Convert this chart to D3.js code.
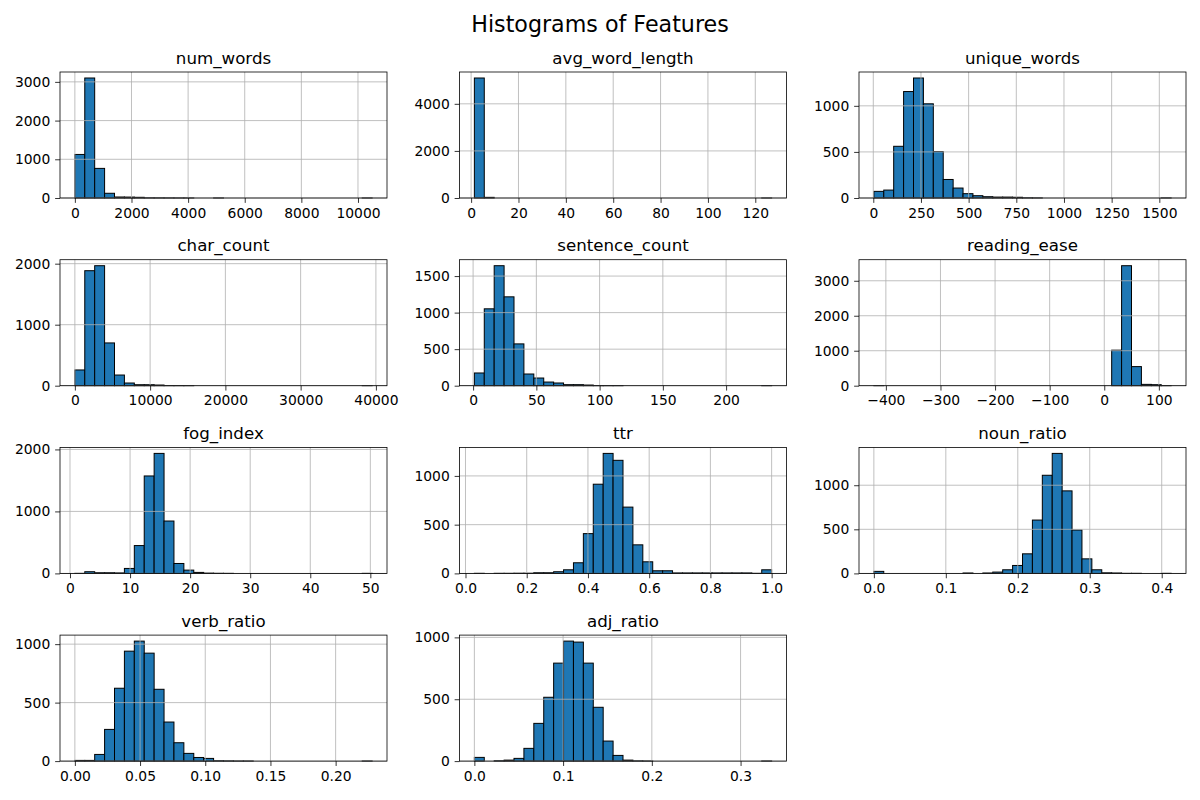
<!DOCTYPE html>
<html><head><meta charset="utf-8">
<script src="https://cdn.jsdelivr.net/npm/d3@7/dist/d3.min.js"></script>
<style>body{margin:0;background:#fff}text{font-family:"DejaVu Sans",sans-serif}</style>
</head><body>
<svg id="c" width="1200" height="800"></svg>
<script>
// ---------------- data ----------------
const featureNames = ["num_words","avg_word_length","unique_words","char_count","sentence_count","reading_ease","fog_index","ttr","noun_ratio","verb_ratio","adj_ratio"];
const dataMins = [0, 1.37, 3, 0, 1, -422, 0.81, 0.029, 0, 0, 0];
const dataMaxs = [10500, 126.9, 1562, 39500, 236, 122.5, 50.3, 1.0, 0.4131, 0.228, 0.335];

const numWordsCounts      = [1125,3100,765,122,26,24,18,4,3,2,1,1,0,0,1,0,0,0,0,0,0,0,0,0,0,0,0,0,0,1];
const avgWordLengthCounts = [5097,28,0,0,0,0,0,0,0,0,0,0,0,0,0,0,0,0,0,0,0,0,0,0,0,0,0,0,0,1];
const uniqueWordsCounts   = [72,86,561,1155,1302,1022,504,201,108,47,25,14,10,10,8,2,1,0,0,0,0,0,0,0,0,0,0,0,0,1];
const charCountCounts     = [258,1885,1967,701,175,44,16,16,11,3,2,1,0,0,0,0,0,0,0,0,0,0,0,0,0,0,0,0,0,1];
const sentenceCountCounts = [174,1052,1642,1216,572,160,105,50,37,14,14,9,2,1,1,0,0,0,0,0,0,0,0,0,0,0,0,0,0,1];
const readingEaseCounts   = [1,0,0,0,0,0,0,0,0,0,0,0,0,0,0,0,0,0,0,0,0,0,0,0,1016,3431,546,38,29,5];
const fogIndexCounts      = [1,27,11,11,8,80,449,1572,1936,845,160,53,16,5,2,1,0,0,0,0,0,0,0,0,0,0,0,0,0,1];
const ttrCounts           = [1,0,1,1,2,2,7,7,17,37,109,408,915,1231,1160,680,293,119,27,27,5,5,5,5,5,5,5,5,1,37];
const nounRatioCounts     = [23,0,0,0,0,0,0,0,0,5,0,5,15,41,90,222,605,1113,1361,936,492,165,41,7,5,1,1,0,0,1];
const verbRatioCounts     = [6,6,57,271,623,940,1026,923,614,334,157,66,31,23,3,2,1,1,0,0,0,0,0,0,0,0,0,0,0,1];
const adjRatioCounts      = [30,0,3,8,22,103,305,516,792,970,962,792,435,162,46,8,2,1,0,0,0,0,0,0,0,0,0,0,0,1];

const xTickLabels = [
  ["0","2000","4000","6000","8000","10000"],
  ["0","20","40","60","80","100","120"],
  ["0","250","500","750","1000","1250","1500"],
  ["0","10000","20000","30000","40000"],
  ["0","50","100","150","200"],
  ["\u2212400","\u2212300","\u2212200","\u2212100","0","100"],
  ["0","10","20","30","40","50"],
  ["0.0","0.2","0.4","0.6","0.8","1.0"],
  ["0.0","0.1","0.2","0.3","0.4"],
  ["0.00","0.05","0.10","0.15","0.20"],
  ["0.0","0.1","0.2","0.3"]
];
const yTickLabels = [
  ["0","1000","2000","3000"],
  ["0","2000","4000"],
  ["0","500","1000"],
  ["0","1000","2000"],
  ["0","500","1000","1500"],
  ["0","1000","2000","3000"],
  ["0","1000","2000"],
  ["0","500","1000"],
  ["0","500","1000"],
  ["0","500","1000"],
  ["0","500","1000"]
];
const allCounts = [numWordsCounts,avgWordLengthCounts,uniqueWordsCounts,charCountCounts,sentenceCountCounts,readingEaseCounts,fogIndexCounts,ttrCounts,nounRatioCounts,verbRatioCounts,adjRatioCounts];

// ---------------- layout ----------------
const colLeft = [60, 459.5, 859];
const rowTop = [72, 259.7, 447.4, 635.1];
const AW = 327, AH = 126;
const TICK = 4.86, FS_TICK = 13.89, FS_TITLE = 16.67;

const svg = d3.select("#c");
svg.append("rect").attr("width",1200).attr("height",800).attr("fill","#fff");
svg.append("text").attr("x",600).attr("y",32).attr("text-anchor","middle")
  .attr("font-size",22.2).attr("fill","#000").text("Histograms of Features");

const num = s => +s.replace("\u2212","-");

featureNames.forEach((name, i) => {
  const counts = allCounts[i];
  const mn = dataMins[i], mx = dataMaxs[i], R = mx - mn;
  const nb = counts.length;
  const edges = d3.range(nb + 1).map(k => mn + k * R / nb);
  const x = d3.scaleLinear().domain([mn - 0.05 * R, mx + 0.05 * R]).range([0, AW]);
  const y = d3.scaleLinear().domain([0, d3.max(counts) * 1.05]).range([AH, 0]);
  const g = svg.append("g").attr("transform", `translate(${colLeft[i % 3]},${rowTop[Math.floor(i / 3)]})`);

  const bins = counts.map((c, k) => ({c, x0: edges[k], x1: edges[k + 1]}));
  g.selectAll("rect.bar").data(bins).join("rect").attr("class","bar")
    .attr("x", d => x(d.x0)).attr("width", d => x(d.x1) - x(d.x0))
    .attr("y", d => y(d.c)).attr("height", d => y(0) - y(d.c))
    .attr("fill", "#1f77b4").attr("stroke", "#000").attr("stroke-width", 1);

  const xt = xTickLabels[i].map(num), yt = yTickLabels[i].map(num);
  // grid (drawn above the patches, like matplotlib)
  g.selectAll("line.gx").data(xt).join("line").attr("class","gx")
    .attr("x1", d => x(d)).attr("x2", d => x(d)).attr("y1", 0).attr("y2", AH)
    .attr("stroke", "#b0b0b0").attr("stroke-width", 0.8);
  g.selectAll("line.gy").data(yt).join("line").attr("class","gy")
    .attr("x1", 0).attr("x2", AW).attr("y1", d => y(d)).attr("y2", d => y(d))
    .attr("stroke", "#b0b0b0").attr("stroke-width", 0.8);

  const xa = g.append("g").attr("transform", `translate(0,${AH})`)
    .call(d3.axisBottom(x).tickValues(xt).tickFormat((d, k) => xTickLabels[i][k]).tickSize(TICK).tickPadding(TICK).tickSizeOuter(0));
  const ya = g.append("g")
    .call(d3.axisLeft(y).tickValues(yt).tickFormat((d, k) => yTickLabels[i][k]).tickSize(TICK).tickPadding(TICK).tickSizeOuter(0));
  [xa, ya].forEach(a => {
    a.select(".domain").remove();
    a.selectAll("line").attr("stroke", "#000").attr("stroke-width", 0.8);
    a.selectAll("text").attr("font-size", FS_TICK).attr("fill", "#000").attr("font-family", "DejaVu Sans");
  });

  g.append("rect").attr("width", AW).attr("height", AH).attr("fill", "none")
    .attr("stroke", "#000").attr("stroke-width", 0.8);
  g.append("text").attr("x", AW / 2).attr("y", -8.33).attr("text-anchor", "middle")
    .attr("font-size", FS_TITLE).attr("fill", "#000").text(name);
});
</script>
</body></html>
